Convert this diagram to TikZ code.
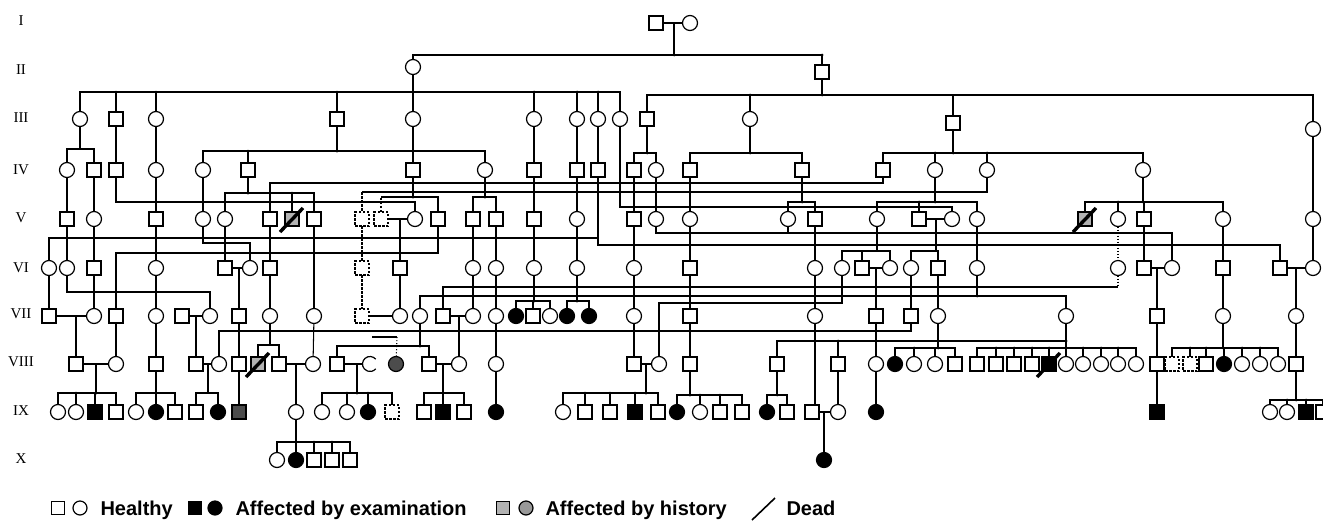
\documentclass[tikz,border=0pt]{standalone}
\usepackage{fontspec}
\setmainfont{Liberation Serif}
\newfontfamily\legendfont{Liberation Sans}
\usetikzlibrary{backgrounds}
\tikzset{
  person/.style={draw, line width=1.2pt, fill=white, inner sep=0pt, outer sep=0pt},
  male/.style={person, rectangle, minimum size=14pt},
  female/.style={person, circle, minimum size=15pt},
  exam/.style={fill=black},
  hist/.style={fill=black!30},
  histdark/.style={fill=black!70},
  unsure/.style={dash pattern=on 2.5pt off 1.5pt},
  gen/.style={font=\fontsize{15}{15}\selectfont},
  legend/.style={anchor=base west, font=\legendfont\bfseries\fontsize{20}{20}\selectfont},
  dead/.style={line width=3.4pt},
}
\newcommand{\deadmark}[1]{\draw[dead] ([shift={(-12,13)}]#1.center) -- ([shift={(11,-11)}]#1.center);}

\begin{document}
\begin{tikzpicture}[x=1pt,y=-1pt]
  \useasboundingbox (0,0) rectangle (1323,523);
  % generation labels
  \foreach \g/\y in {I/21,II/70,III/118,IV/170,V/218,VI/268,VII/314,VIII/362,IX/411,X/459}
    \node[gen] (lab\g) at (21,\y) {\g};
  %
  % I and II
  \node[male] (i1) at (656,23) {};
  \node[female] (i2) at (690,23) {};
  \node[female] (ii1) at (413,67) {};
  \node[male] (ii2) at (822,72) {};
  % III
  \foreach \n/\x in {iii1/80,iii3/156,iii5/413,iii6/534,iii7/577,iii8/598,iii9/620,iii11/750}
    \node[female] (\n) at (\x,119) {};
  \foreach \n/\x in {iii2/116,iii4/337,iii10/647}
    \node[male] (\n) at (\x,119) {};
  \node[male] (iii12) at (953,123) {};
  \node[female] (iii13) at (1313,129) {};
  % IV
  \foreach \n/\x in {iv1/67,iv4/156,iv5/203,iv8/485,iv13/656,iv17/935,iv18/987,iv19/1143}
    \node[female] (\n) at (\x,170) {};
  \foreach \n/\x in {iv2/94,iv3/116,iv6/248,iv7/413,iv9/534,iv10/577,iv11/598,iv12/634,iv14/690,iv15/802,iv16/883}
    \node[male] (\n) at (\x,170) {};
  % V
  \foreach \n/\x in {v2/94,v4/203,v5/225,v11/415,v16/577,v18/656,v19/690,v20/788,v22/877,v24/952,v25/977,v27/1118,v29/1223,v30/1313}
    \node[female] (\n) at (\x,219) {};
  \foreach \n/\x in {v1/67,v3/156,v6/270,v8/314,v12/438,v13/473,v14/496,v15/534,v17/634,v21/815,v23/919,v28/1144}
    \node[male] (\n) at (\x,219) {};
  \foreach \n/\x in {v9/362,v10/381}
    \node[male,unsure] (\n) at (\x,219) {};
  \foreach \n/\x in {v7/292,v26/1085}
    \node[male,hist] (\n) at (\x,219) {};
  % VI
  \foreach \n/\x in {vi1/49,vi2/67,vi4/156,vi6/250,vi10/473,vi11/496,vi12/534,vi13/577,vi14/634,vi16/815,vi17/842,vi19/890,vi20/911,vi22/977,vi23/1118,vi25/1172,vi28/1313}
    \node[female] (\n) at (\x,268) {};
  \foreach \n/\x in {vi3/94,vi5/225,vi7/270,vi9/400,vi15/690,vi18/862,vi21/938,vi24/1144,vi26/1223,vi27/1280}
    \node[male] (\n) at (\x,268) {};
  \node[male,unsure] (vi8) at (362,268) {};
  % VII
  \foreach \n/\x in {vii2/94,vii4/156,vii6/210,vii8/270,vii9/314,vii11/400,vii12/420,vii14/473,vii15/496,vii18/550,vii21/634,vii23/815,vii26/938,vii27/1066,vii29/1223,vii30/1296}
    \node[female] (\n) at (\x,316) {};
  \foreach \n/\x in {vii16/516,vii19/567,vii20/589}
    \node[female,exam] (\n) at (\x,316) {};
  \foreach \n/\x in {vii1/49,vii3/116,vii5/182,vii7/239,vii13/443,vii17/533,vii22/690,vii24/876,vii25/911,vii28/1157}
    \node[male] (\n) at (\x,316) {};
  \node[male,unsure] (vii10) at (362,316) {};
  % VIII
  \foreach \n/\x in {viii2/116,viii5/219,viii9/313,viii14/459,viii15/496,viii17/659,viii21/876,viii23/914,viii24/935,viii31/1066,viii32/1083,viii33/1101,viii34/1118,viii35/1136,viii41/1242,viii42/1260,viii43/1278}
    \node[female] (\n) at (\x,364) {};
  \foreach \n/\x in {viii22/895,viii40/1224}
    \node[female,exam] (\n) at (\x,364) {};
  \node[female,histdark] (viii12) at (396,364) {};
  \node[female,draw=none] (viii11) at (370,364) {};
  \draw[line width=1.2pt] ([shift={(40:7.5pt)}]viii11.center) arc (40:320:7.5pt);
  \foreach \n/\x in {viii1/76,viii3/156,viii4/196,viii6/239,viii8/279,viii10/337,viii13/429,viii16/634,viii18/690,viii19/777,viii20/838,viii25/955,viii26/977,viii27/996,viii28/1014,viii29/1032,viii36/1157,viii39/1206,viii44/1296}
    \node[male] (\n) at (\x,364) {};
  \foreach \n/\x in {viii37/1172,viii38/1190}
    \node[male,unsure] (\n) at (\x,364) {};
  \node[male,hist] (viii7) at (258,364) {};
  \node[male,exam] (viii30) at (1049,364) {};
  % IX
  \foreach \n/\x in {ix1/58,ix2/76,ix5/136,ix11/296,ix12/322,ix13/347,ix20/563,ix26/700,ix32/838,ix35/1270,ix36/1287}
    \node[female] (\n) at (\x,412) {};
  \foreach \n/\x in {ix6/156,ix9/218,ix14/368,ix19/496,ix25/677,ix29/767,ix33/876}
    \node[female,exam] (\n) at (\x,412) {};
  \foreach \n/\x in {ix4/116,ix7/175,ix8/196,ix16/424,ix18/464,ix21/585,ix22/610,ix24/658,ix27/720,ix28/742,ix30/787,ix31/812,ix38/1323}
    \node[male] (\n) at (\x,412) {};
  \foreach \n/\x in {ix3/95,ix17/443,ix23/635,ix34/1157,ix37/1306}
    \node[male,exam] (\n) at (\x,412) {};
  \node[male,histdark] (ix10) at (239,412) {};
  \node[male,unsure] (ix15) at (392,412) {};
  % X
  \node[female] (x1) at (277,460) {};
  \node[female,exam] (x2) at (296,460) {};
  \foreach \n/\x in {x3/314,x4/332,x5/350}
    \node[male] (\n) at (\x,460) {};
  \node[female,exam] (x6) at (824,460) {};
  %
  \begin{pgfonlayer}{background}
  \fill[white] (0,0) rectangle (1323,523);
  \begin{scope}[line width=1.05pt]
    % I -> II
    \draw (i1) -- (i2);
    \draw (674,23) -- (674,55);
    \draw (ii1) |- (ii2 |- 0,55) -- (ii2);
    % II -> III
    \draw (ii1) -- (413,92);
    \draw (iii1) |- (iii9 |- 0,92) -- (iii9);
    \foreach \k in {iii2,iii3,iii4,iii5,iii6,iii7,iii8} \draw (\k) -- (\k |- 0,92);
    \draw (ii2) -- (822,95);
    \draw (iii10) |- (iii13 |- 0,95) -- (iii13);
    \foreach \k in {iii11,iii12} \draw (\k) -- (\k |- 0,95);
    % III -> IV
    \draw (iii1) -- (80,149);
    \draw (iv1) |- (iv2 |- 0,149) -- (iv2);
    \draw (iii2) -- (iv3);
    \draw (iii3) -- (iv4);
    \draw (iii4) -- (337,151);
    \draw (iv5) |- (iv8 |- 0,151) -- (iv8);
    \draw (iv6) -- (248,151);
    \draw (iii5) -- (iv7);
    \draw (iii6) -- (iv9);
    \draw (iii7) -- (iv10);
    \draw (iii8) -- (iv11);
    \draw (iii9) |- (v24 |- 0,207) -- (v24);
    \draw (iii10) -- (647,153);
    \draw (iv12) |- (iv13 |- 0,153) -- (iv13);
    \draw (iii11) -- (750,153);
    \draw (iv14) |- (iv15 |- 0,153) -- (iv15);
    \draw (iii12) -- (953,153);
    \draw (iv16) |- (iv19 |- 0,153) -- (iv19);
    \foreach \k in {iv17,iv18} \draw (\k) -- (\k |- 0,153);
    \draw (iii13) -- (v30);
    % IV -> V
    \draw (iv1) -- (v1);
    \draw (iv2) -- (v2);
    \draw (iv4) -- (v3);
    \draw (iv5) -- (v4);
    \draw (iv3) |- (v11 |- 0,202) -- (v11);
    \draw (iv6) -- (248,193);
    \draw (v5) |- (v8 |- 0,193) -- (v8);
    \draw (v7) -- (v7 |- 0,193);
    \draw (iv16) |- (v6 |- 0,183) -- (v6);
    \draw (iv18) |- (v9 |- 0,192);
    \draw[unsure] (v9 |- 0,192) -- (v9);
    \draw (iv7) -- (413,197);
    \draw[unsure] (v10) -- (v10 |- 0,197);
    \draw (v10 |- 0,197) -- (v12 |- 0,197) -- (v12);
    \draw (iv8) -- (485,197);
    \draw (v13) |- (v14 |- 0,197) -- (v14);
    \draw (iv9) -- (v15);
    \draw (iv10) -- (v16);
    \draw (iv11) -- (598,245) -- (vi27 |- 0,245) -- (vi27);
    \draw (vi1) |- (598,238);
    \draw (iv12) -- (v17);
    \draw (iv13) -- (v18);
    \draw (iv14) -- (v19);
    \draw (iv15) -- (802,202);
    \draw (v20) |- (v21 |- 0,202) -- (v21);
    \draw (iv17) -- (935,202);
    \draw (v22) |- (v25 |- 0,202) -- (v25);
    \draw (v23) -- (v23 |- 0,202);
    \draw (iv19) -- (1143,202);
    \draw (v26) |- (v29 |- 0,202) -- (v29);
    \foreach \k in {v27,v28} \draw (\k) -- (\k |- 0,202);
    % V -> VI
    \draw (v1) -- (vi2);
    \draw (v2) -- (vi3);
    \draw (v3) -- (vi4);
    \draw (v4) |- (vi6 |- 0,243) -- (vi6);
    \draw (v5) -- (vi5);
    \draw (v6) -- (vi7);
    \draw (v8) -- (vii9);
    \draw[unsure] (v9) -- (vi8);
    \draw (v10) -- (v11);
    \draw (400,219) -- (vi9);
    \draw (v12) |- (vii3 |- 0,253) -- (vii3);
    \draw (v13) -- (vi10);
    \draw (v14) -- (vi11);
    \draw (v15) -- (vi12);
    \draw (v16) -- (vi13);
    \draw (v17) -- (vi14);
    \draw (v18) |- (vi25 |- 0,233) -- (vi25);
    \draw (v20) -- (v20 |- 0,233);
    \draw (v19) -- (vi15);
    \draw (v21) -- (vi16);
    \draw (v22) -- (877,251);
    \draw (vi17) |- (vi19 |- 0,251) -- (vi19);
    \draw (vi18) -- (vi18 |- 0,251);
    \draw (v23) -- (v24);
    \draw (936,219) -- (936,251);
    \draw (vi20) |- (vi21 |- 0,251) -- (vi21);
    \draw (v25) -- (vi22);
    \draw[dotted] (v27) -- (vi23);
    \draw (v28) -- (vi24);
    \draw (v29) -- (vi26);
    \draw (v30) -- (vi28);
    % VI -> VII
    \draw (vi1) -- (vii1);
    \draw (vi2) |- (vii6 |- 0,292) -- (vii6);
    \draw (vi3) -- (vii2);
    \draw (vi4) -- (vii4);
    \draw (vi5) -- (vi6);
    \draw (239,268) -- (vii7);
    \draw (vi7) -- (vii8);
    \draw[unsure] (vi8) -- (vii10);
    \draw (vi9) -- (vii11);
    \draw (vi10) -- (vii14);
    \draw (vi11) -- (vii15);
    \draw (vi12) -- (534,301);
    \draw (vii16) |- (vii18 |- 0,301) -- (vii18);
    \draw (vii17) -- (vii17 |- 0,301);
    \draw (vi13) -- (577,301);
    \draw (vii19) |- (vii20 |- 0,301) -- (vii20);
    \draw (vi14) -- (vii21);
    \draw (vi15) -- (vii22);
    \draw (vi16) -- (vii23);
    \draw (vi17) |- (viii17 |- 0,303) -- (viii17);
    \draw (vi18) -- (vi19);
    \draw (876,268) -- (vii24);
    \draw (vi20) -- (vii25);
    \draw (vi21) -- (vii26);
    \draw (vi22) -- (977,296);
    \draw (vii12) |- (vii27 |- 0,296) -- (vii27);
    \draw[dotted] (vi23) -- (1118,287);
    \draw (1118,287) -| (vii13);
    \draw (vi24) -- (vi25);
    \draw (1157,268) -- (vii28);
    \draw (vi26) -- (vii29);
    \draw (vi27) -- (vi28);
    \draw (1296,268) -- (vii30);
    % VII -> VIII
    \draw (vii1) -- (vii2);
    \draw (76,316) -- (viii1);
    \draw (vii3) -- (viii2);
    \draw (vii4) -- (viii3);
    \draw (vii5) -- (vii6);
    \draw (196,316) -- (viii4);
    \draw (vii7) -- (viii6);
    \draw (vii8) -- (270,345);
    \draw (viii7) |- (viii8 |- 0,345) -- (viii8);
    \draw (vii9) -- (viii9);
    \draw (vii10) -- (vii11);
    \draw (vii12) -- (420,346);
    \draw (viii10) |- (viii13 |- 0,346) -- (viii13);
    \draw (vii13) -- (vii14);
    \draw (459,316) -- (viii14);
    \draw (vii15) -- (viii15);
    \draw (vii21) -- (viii16);
    \draw (vii22) -- (viii18);
    \draw (vii24) -- (viii21);
    \draw (vii25) |- (viii5 |- 0,331) -- (viii5);
    \draw (vii26) -- (938,348);
    \draw (viii22) |- (viii25 |- 0,348) -- (viii25);
    \foreach \k in {viii23,viii24} \draw (\k) -- (\k |- 0,348);
    \draw (vii27) -- (1066,348);
    \draw (viii26) |- (viii35 |- 0,348) -- (viii35);
    \foreach \k in {viii27,viii28,viii29,viii30,viii31,viii32,viii33,viii34} \draw (\k) -- (\k |- 0,348);
    \draw (viii19) |- (vii27 |- 0,341);
    \draw (viii20) -- (viii20 |- 0,341);
    \draw (vii28) -- (viii36);
    \draw (vii29) -- (1223,348);
    \draw (viii37) |- (viii43 |- 0,348) -- (viii43);
    \foreach \k in {viii38,viii39,viii40,viii41,viii42} \draw (\k) -- (\k |- 0,348);
    \draw (vii30) -- (viii44);
    \draw (372,337) -- (397,337);
    \draw[dotted] (397,337) -- (viii12);
    % VIII -> IX
    \draw (viii1) -- (viii2);
    \draw (96,364) -- (96,393);
    \draw (ix1) |- (ix4 |- 0,393) -- (ix4);
    \foreach \k in {ix2,ix3} \draw (\k) -- (\k |- 0,393);
    \draw (viii3) -- (ix6);
    \draw (ix5) |- (ix7 |- 0,393) -- (ix7);
    \draw (viii4) -- (viii5);
    \draw (208,364) -- (208,393);
    \draw (ix8) |- (ix9 |- 0,393) -- (ix9);
    \draw (viii6) -- (ix10);
    \draw (viii8) -- (viii9);
    \draw (296,364) -- (ix11);
    \draw (viii10) -- (viii11);
    \draw (357,364) -- (357,393);
    \draw (ix12) |- (ix15 |- 0,393) -- (ix15);
    \foreach \k in {ix13,ix14} \draw (\k) -- (\k |- 0,393);
    \draw (viii13) -- (viii14);
    \draw (443,364) -- (ix17);
    \draw (ix16) |- (ix18 |- 0,393) -- (ix18);
    \draw (viii15) -- (ix19);
    \draw (viii16) -- (viii17);
    \draw (646,364) -- (646,393);
    \draw (ix20) |- (ix24 |- 0,393) -- (ix24);
    \foreach \k in {ix21,ix22,ix23} \draw (\k) -- (\k |- 0,393);
    \draw (viii18) -- (690,395);
    \draw (ix25) |- (ix28 |- 0,395) -- (ix28);
    \foreach \k in {ix26,ix27} \draw (\k) -- (\k |- 0,395);
    \draw (viii19) -- (777,395);
    \draw (ix29) |- (ix30 |- 0,395) -- (ix30);
    \draw (vii23) -- (815,405);
    \draw (viii20) -- (ix32);
    \draw (ix31) -- (ix32);
    \draw (824,412) -- (x6);
    \draw (viii21) -- (ix33);
    \draw (viii36) -- (ix34);
    \draw (viii44) -- (1296,400);
    \draw (ix35) |- (ix38 |- 0,400) -- (ix38);
    \foreach \k in {ix36,ix37} \draw (\k) -- (\k |- 0,400);
    % IX -> X
    \draw (ix11) -- (296,442);
    \draw (x1) |- (x5 |- 0,442) -- (x5);
    \foreach \k in {x2,x3,x4} \draw (\k) -- (\k |- 0,442);
  \end{scope}
  \end{pgfonlayer}
  % junction dots
  \foreach \p in {(674,55),(822,55),(116,92),(156,92),(337,92),(413,92),(534,92),(577,92),(598,92),
      (750,95),(822,95),(248,151),(337,151),(647,153),(750,153),(935,153),(953,153),(987,153),
      (248,193),(292,193),(413,192),(413,197),(485,197),(802,202),(919,202),(935,202),(1118,202),(1143,202),
      (534,301),(577,301),(977,296),(420,346),(838,341),(1066,341),
      (914,348),(938,348),(996,348),(1014,348),(1032,348),(1049,348),(1066,348),(1083,348),(1101,348),(1118,348),
      (1190,348),(1206,348),(1223,348),(1242,348),(1260,348),
      (76,393),(96,393),(156,393),(347,393),(357,393),(368,393),(443,393),
      (585,393),(610,393),(635,393),(646,393),(690,395),(700,395),(720,395),(777,395),
      (1287,400),(1296,400),(1306,400),(296,442),(314,442),(332,442)}
    \fill \p circle (1.5pt);
  % dead marks
  \deadmark{v7}
  \deadmark{v26}
  \deadmark{viii7}
  \deadmark{viii30}
  %
  % legend
  \node[male,minimum size=13pt] (lgh1) at (58,508) {};
  \node[female,minimum size=14pt] (lgh2) at (80,508) {};
  \node[legend] (lgt1) at (97,515) {Healthy};
  \node[male,exam,minimum size=13pt] (lge1) at (195,508) {};
  \node[female,exam,minimum size=14pt] (lge2) at (215,508) {};
  \node[legend] (lgt2) at (232,515) {Affected by examination};
  \node[male,hist,minimum size=13pt] (lgs1) at (503,508) {};
  \node[female,fill=black!40,minimum size=14pt] (lgs2) at (526,508) {};
  \node[legend] (lgt3) at (542,515) {Affected by history};
  \draw[line width=1.6pt] (752,520) -- (775,498);
  \node[legend] (lgt4) at (783,515) {Dead};
\end{tikzpicture}
\end{document}
